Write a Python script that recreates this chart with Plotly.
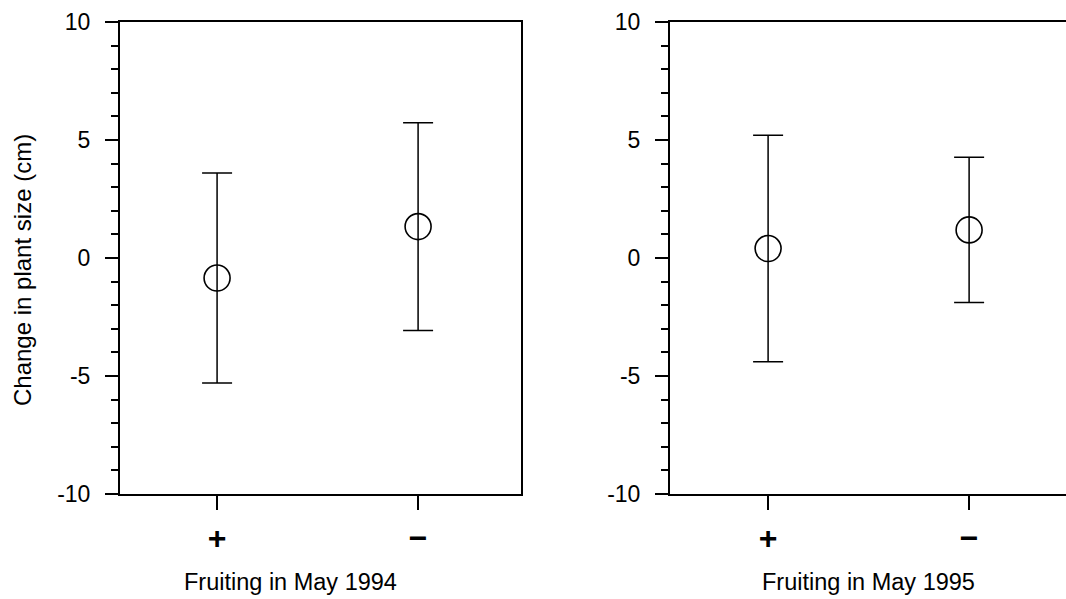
import plotly.graph_objects as go

# Fruiting status categories (+ fruited, − did not fruit)
categories = ["+", "\u2212"]

# Mean change in plant size (cm) and error half-widths, per year
mean_1994 = [-0.85, 1.33]
err_1994 = [4.45, 4.40]
mean_1995 = [0.40, 1.19]
err_1995 = [4.80, 3.08]

y_tickvals = [-10, -5, 0, 5, 10]
y_ticktext = ["-10", "-5", "0", "5", "10"]

FONT = "Liberation Sans, Arial, sans-serif"

fig = go.Figure()


def add_panel(means, errs, xref, yref):
    fig.add_trace(go.Scatter(
        x=categories, y=means, xaxis=xref, yaxis=yref,
        mode="markers",
        marker=dict(symbol="circle-open", size=26, color="black",
                    line=dict(width=1.6, color="black")),
        error_y=dict(type="data", array=errs, visible=True,
                     color="black", thickness=1.5, width=15),
        showlegend=False, hoverinfo="skip",
    ))


add_panel(mean_1994, err_1994, "x", "y")
add_panel(mean_1995, err_1995, "x2", "y2")

xcommon = dict(
    type="category", showgrid=False, zeroline=False, automargin=False,
    showline=True, linecolor="black", linewidth=2,
    ticks="outside", ticklen=14, tickwidth=1.5, tickcolor="black",
    tickfont=dict(family=FONT, size=32, color="black", weight="bold"),
    ticklabelstandoff=1,
)
ycommon = dict(
    range=[-10, 10], showgrid=False, zeroline=False, automargin=False,
    showline=True, linecolor="black", linewidth=2,
    tickmode="array", tickvals=y_tickvals, ticktext=y_ticktext,
    ticks="outside", ticklen=13, tickwidth=1.5, tickcolor="black",
    minor=dict(dtick=1, ticks="outside", ticklen=7, tickwidth=1.5,
               tickcolor="black", showgrid=False),
    tickfont=dict(family=FONT, size=23, color="black"),
    ticklabelstandoff=10,
)

ydom = [1 - 494 / 599, 1 - 22 / 599]

fig.update_layout(
    width=1066, height=599,
    margin=dict(l=0, r=0, t=0, b=0, pad=0, autoexpand=False),
    paper_bgcolor="white", plot_bgcolor="white",
    xaxis=dict(xcommon, domain=[120 / 1066, 521 / 1066],
               range=[-0.483, 1.512], mirror=True),
    yaxis=dict(ycommon, domain=ydom, anchor="x", mirror=True),
    xaxis2=dict(xcommon, domain=[670 / 1066, 1.0],
                range=[-0.488, 1.482], mirror=True, anchor="y2"),
    yaxis2=dict(ycommon, domain=ydom, anchor="x2", mirror=False),
    annotations=[
        dict(text="Change in plant size (cm)", textangle=-90,
             x=22 / 1066, y=1 - 270 / 599, xref="paper", yref="paper",
             xanchor="center", yanchor="middle",
             showarrow=False, font=dict(family=FONT, size=24, color="black")),
        dict(text="Fruiting in May 1994",
             x=290 / 1066, y=1 - 582 / 599, xref="paper", yref="paper",
             xanchor="center", yanchor="middle",
             showarrow=False, font=dict(family=FONT, size=23.5, color="black")),
        dict(text="Fruiting in May 1995",
             x=868 / 1066, y=1 - 582 / 599, xref="paper", yref="paper",
             xanchor="center", yanchor="middle",
             showarrow=False, font=dict(family=FONT, size=23.5, color="black")),
    ],
)

fig.write_html("out.html")
